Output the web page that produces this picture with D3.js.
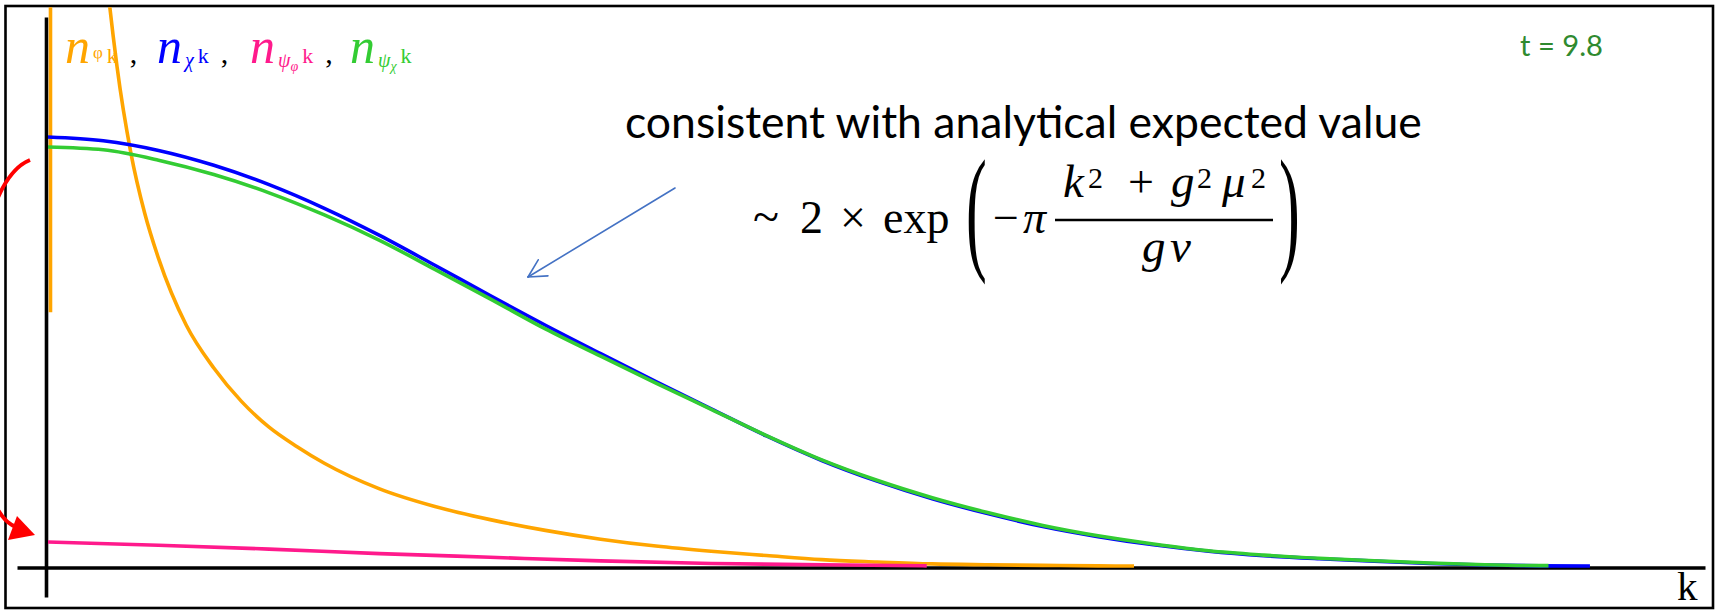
<!DOCTYPE html>
<html>
<head>
<meta charset="utf-8">
<script src="https://cdn.jsdelivr.net/npm/d3@7"></script>
<style>
  html, body { margin: 0; padding: 0; background: #fff; overflow: hidden; }
  svg { display: block; }
</style>
</head>
<body>
<svg id="chart" width="1719" height="610"></svg>
<script>
// Occupation numbers n_k versus momentum k at time t = 9.8

// n_chi,k (blue)
const kChi = [0, 0.2, 0.4, 0.6, 0.8, 1.0, 1.2, 1.4, 1.6, 1.8, 2.0, 2.2, 2.4, 2.6, 2.8,
              3.0, 3.2, 3.4, 3.6, 3.8, 4.0, 4.2, 4.4, 4.6, 4.8, 5.0, 5.2, 5.4, 5.58];
const nChi = [2.005, 1.987, 1.942, 1.873, 1.783, 1.673, 1.547, 1.408, 1.267, 1.129, 0.997,
              0.867, 0.740, 0.614, 0.500, 0.404, 0.322, 0.253, 0.193, 0.146, 0.108, 0.078,
              0.057, 0.043, 0.032, 0.021, 0.014, 0.010, 0.009];

// n_psi_chi,k (green)
const kPsiChi = [0, 0.2, 0.4, 0.6, 0.8, 1.0, 1.2, 1.4, 1.6, 1.8, 2.0, 2.2, 2.4, 2.6, 2.8,
                 3.0, 3.2, 3.4, 3.6, 3.8, 4.0, 4.2, 4.4, 4.6, 4.8, 5.0, 5.2, 5.4, 5.43];
const nPsiChi = [1.958, 1.945, 1.897, 1.830, 1.745, 1.642, 1.524, 1.389, 1.252, 1.112, 0.985,
                 0.860, 0.738, 0.616, 0.503, 0.408, 0.327, 0.258, 0.198, 0.150, 0.112, 0.080,
                 0.060, 0.045, 0.034, 0.023, 0.015, 0.011, 0.011];

// n_psi_phi,k (pink)
const kPsiPhi = [0, 0.4, 0.8, 1.2, 1.6, 2.0, 2.4, 2.8, 3.18];
const nPsiPhi = [0.121, 0.106, 0.088, 0.067, 0.050, 0.033, 0.021, 0.015, 0.010];

// n_phi,k (orange) - diverges like 1/k near the origin
const kPhi = [0.009, 0.01, 0.05, 0.1, 0.15, 0.2, 0.25, 0.3, 0.35, 0.4, 0.5, 0.6, 0.7, 0.8, 0.9,
              1.0, 1.2, 1.4, 1.6, 1.8, 2.0, 2.2, 2.4, 2.6, 2.8, 3.0, 3.2, 3.4, 3.6, 3.8, 3.93];
const nPhi = [1.19, 58, 11.7, 5.8, 3.9, 2.92, 2.33, 1.93, 1.65, 1.44, 1.13, 0.93, 0.775, 0.655,
              0.565, 0.487, 0.368, 0.286, 0.225, 0.175, 0.134, 0.102, 0.078, 0.058, 0.039,
              0.028, 0.019, 0.015, 0.012, 0.010, 0.009];

// legend: subscript field names, in drawing order
const legendFields = [["φ"], ["χ"], ["ψ", "φ"], ["ψ", "χ"]];
const timeLabel = "t = 9.8";
const axisLabel = "k";
const noteLabel = "consistent with analytical expected value";

const colors = ["#FFA500", "#0000FF", "#FF1A8C", "#33CC33"];

const svg = d3.select("#chart");
const serif = "'Liberation Serif', 'Times New Roman', serif";
const sans = "Lato, 'Open Sans', sans-serif";

// scales
const x = d3.scaleLinear().domain([0, 6]).range([48, 1706]);
const y = d3.scaleLinear().domain([0, 2.5]).range([568, 568 - 2.5 * 215]);

// outer frame
svg.append("rect")
  .attr("x", 5.5).attr("y", 6).attr("width", 1707.5).attr("height", 602)
  .attr("fill", "#fff").attr("stroke", "#000").attr("stroke-width", 2.6);

svg.append("defs").append("clipPath").attr("id", "plotClip")
  .append("rect").attr("x", 7).attr("y", 7.3).attr("width", 1704.5).attr("height", 599.4);

// axes: plain lines without ticks
const xAxisScale = d3.scaleLinear().domain([x.invert(17), x.invert(1705)]).range([17, 1705]);
const yAxisScale = d3.scaleLinear().domain([y.invert(597), y.invert(17)]).range([597, 17]);

const gx = svg.append("g").attr("transform", "translate(0,567.5)")
  .call(d3.axisBottom(xAxisScale).tickValues([]).tickSizeOuter(0));
const gy = svg.append("g").attr("transform", "translate(46,0)")
  .call(d3.axisLeft(yAxisScale).tickValues([]).tickSizeOuter(0));
[gx, gy].forEach(g => g.select(".domain").attr("stroke", "#000").attr("stroke-width", 3.6));

// curves
const series = [
  { k: kPhi, n: nPhi },
  { k: kChi, n: nChi },
  { k: kPsiPhi, n: nPsiPhi },
  { k: kPsiChi, n: nPsiChi }
];
const line = d3.line().x(d => x(d[0])).y(d => y(d[1])).curve(d3.curveMonotoneX);
const plot = svg.append("g").attr("clip-path", "url(#plotClip)");
series.forEach((s, i) => {
  plot.append("path")
    .datum(s.k.map((k, j) => [k, s.n[j]]))
    .attr("d", line)
    .attr("fill", "none")
    .attr("stroke", colors[i])
    .attr("stroke-width", 3.6)
    .attr("stroke-linejoin", "round");
});

// legend  n_{φ k}, n_{χ k}, n_{ψφ k}, n_{ψχ k}
const legendX = [65, 157, 250, 350];
legendFields.forEach((fields, i) => {
  const t = svg.append("text").attr("x", legendX[i]).attr("y", 63)
    .attr("font-family", serif).attr("fill", colors[i]);
  t.append("tspan").attr("font-style", "italic").attr("font-size", 50).text("n");
  fields.forEach((f, j) => {
    const first = j === 0;
    t.append("tspan")
      .attr("dx", first ? 3 : 0)
      .attr("y", fields.length === 1 ? (f === "φ" ? 58 : 67) : (first ? 67 : 71))
      .attr("font-style", f === "φ" && fields.length === 1 ? "normal" : "italic")
      .attr("font-size", fields.length === 1 ? (f === "φ" ? 17 : 20) : (first ? 20 : 14))
      .text(f);
  });
  t.append("tspan").attr("dx", 4).attr("y", 63).attr("font-size", 22).text("k");
  if (i < legendFields.length - 1) {
    t.append("tspan").attr("dx", 12).attr("y", 63).attr("font-size", 30)
      .attr("fill", "#000").text(",");
  }
});

// time stamp
const tl = svg.append("text").attr("x", 1520).attr("y", 56)
  .attr("font-family", sans).attr("font-size", 30).attr("fill", "#2f8a2f").text(timeLabel);
tl.attr("font-size", 30 * 83 / tl.node().getComputedTextLength());

// axis label
svg.append("text").attr("x", 1677).attr("y", 600)
  .attr("font-family", serif).attr("font-size", 41).attr("fill", "#000").text(axisLabel);

// annotation text
const note = svg.append("text").attr("x", 625).attr("y", 138)
  .attr("font-family", sans).attr("font-size", 48).attr("fill", "#000").text(noteLabel);
note.attr("font-size", 48 * 797 / note.node().getComputedTextLength());

// analytical formula  ~ 2 × exp( −π (k² + g²μ²) / (g v) )
const fg = svg.append("g").attr("font-family", serif).attr("fill", "#000");
const glyphs = [
  { t: "~", x: 753, y: 233, s: 48 },
  { t: "2", x: 800, y: 233, s: 46 },
  { t: "×", x: 840, y: 233, s: 46 },
  { t: "exp", x: 883, y: 233, s: 46 },
  { t: "−", x: 993, y: 233, s: 46 },
  { t: "π", x: 1023, y: 233, s: 46, i: true },
  { t: "k", x: 1063, y: 197, s: 47, i: true },
  { t: "2", x: 1088, y: 188, s: 30 },
  { t: "+", x: 1128, y: 197, s: 46 },
  { t: "g", x: 1171, y: 197, s: 47, i: true },
  { t: "2", x: 1197, y: 188, s: 30 },
  { t: "μ", x: 1222, y: 197, s: 47, i: true },
  { t: "2", x: 1251, y: 188, s: 30 },
  { t: "g", x: 1142, y: 262, s: 47, i: true },
  { t: "v", x: 1170, y: 262, s: 47, i: true }
];
glyphs.forEach(g => {
  fg.append("text").attr("x", g.x).attr("y", g.y).attr("font-size", g.s)
    .attr("font-style", g.i ? "italic" : "normal").text(g.t);
});
fg.append("line").attr("x1", 1055).attr("x2", 1273).attr("y1", 220).attr("y2", 220)
  .attr("stroke", "#000").attr("stroke-width", 2.4);
[["(", 966], [")", 1279]].forEach(([p, px]) => {
  fg.append("text").attr("transform", `translate(${px},255) scale(1.2,2.65)`)
    .attr("font-size", 52).text(p);
});

// pointer from the note to the curves
const arrow = svg.append("g").attr("stroke", "#4472C4").attr("stroke-width", 1.6)
  .attr("fill", "none").attr("stroke-linecap", "round");
const tip = [528, 277], tail = [675, 188];
arrow.append("line").attr("x1", tail[0]).attr("y1", tail[1]).attr("x2", tip[0]).attr("y2", tip[1]);
const ang = Math.atan2(tail[1] - tip[1], tail[0] - tip[0]);
[-0.49, 0.49].forEach(da => {
  arrow.append("line").attr("x1", tip[0]).attr("y1", tip[1])
    .attr("x2", tip[0] + 20 * Math.cos(ang + da)).attr("y2", tip[1] + 20 * Math.sin(ang + da));
});

// curved red arrow on the left margin
svg.append("path")
  .attr("d", "M30,160 C-45,190 -45,505 16,527")
  .attr("fill", "none").attr("stroke", "#FF0000").attr("stroke-width", 4);
svg.append("path")
  .attr("d", "M35,535 L8,540 L17,516 Z")
  .attr("fill", "#FF0000");
</script>
</body>
</html>
